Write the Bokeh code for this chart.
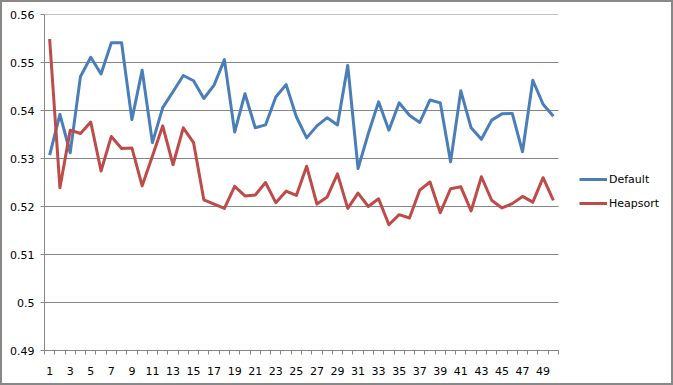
from bokeh.plotting import figure
from bokeh.models import FixedTicker, NumeralTickFormatter, Legend, LegendItem, Range1d, InlineStyleSheet
from bokeh.embed import file_html
from bokeh.resources import INLINE

runs = list(range(1, 51))
default_vals = [0.5307, 0.5392, 0.5312, 0.5471, 0.5511, 0.5476, 0.5541, 0.5541, 0.5381, 0.5484,
                0.5333, 0.5406, 0.5439, 0.5473, 0.5462, 0.5425, 0.5453, 0.5506, 0.5355, 0.5435,
                0.5364, 0.5370, 0.5428, 0.5454, 0.5387, 0.5343, 0.5368, 0.5385, 0.5370, 0.5494,
                0.5279, 0.5352, 0.5418, 0.5359, 0.5416, 0.5390, 0.5375, 0.5422, 0.5416, 0.5293,
                0.5441, 0.5364, 0.5340, 0.5380, 0.5393, 0.5394, 0.5314, 0.5463, 0.5413, 0.5388]
heapsort_vals = [0.5549, 0.5239, 0.5359, 0.5352, 0.5376, 0.5274, 0.5346, 0.5321, 0.5322, 0.5243,
                 0.5305, 0.5368, 0.5287, 0.5364, 0.5333, 0.5214, 0.5205, 0.5196, 0.5242, 0.5222,
                 0.5224, 0.5250, 0.5208, 0.5232, 0.5223, 0.5284, 0.5205, 0.5220, 0.5268, 0.5196,
                 0.5228, 0.5200, 0.5216, 0.5162, 0.5183, 0.5176, 0.5234, 0.5251, 0.5187, 0.5237,
                 0.5241, 0.5191, 0.5262, 0.5213, 0.5197, 0.5206, 0.5221, 0.5209, 0.5260, 0.5213]
y_ticks = [0.49, 0.50, 0.51, 0.52, 0.53, 0.54, 0.55, 0.56]
x_label_ticks = list(range(1, 51, 2))
series_names = ["Default", "Heapsort"]

FONT = "DejaVu Sans"
GRAY = "#868686"

x_lo = runs[0] - 0.5
x_hi = runs[-1] + 0.5
# frame extends under the legend area on the right (514 px for the 50 categories, 629 px total)
x_view_hi = x_lo + (x_hi - x_lo) * 629 / 514

p = figure(width=673, height=385, output_backend="svg", toolbar_location=None,
           x_range=Range1d(x_lo, x_view_hi), y_range=Range1d(y_ticks[0], y_ticks[-1]),
           min_border_left=44, min_border_right=0, min_border_top=14, min_border_bottom=35)
p.outline_line_color = None
p.background_fill_color = "white"
p.border_fill_color = "white"
p.stylesheets = [InlineStyleSheet(css=":host { position: relative; } :host::after { content: ''; position: absolute; left: 0; top: 0; right: 0; bottom: 0; border: 2px solid #888888; pointer-events: none; z-index: 100; }")]

# grid (horizontal lines only over the category area)
p.xgrid.grid_line_color = None
p.ygrid.grid_line_color = None
p.segment(x0=[x_lo] * len(y_ticks), x1=[x_hi] * len(y_ticks), y0=y_ticks, y1=y_ticks,
          line_color=GRAY, line_width=1)

# y axis
p.yaxis.ticker = FixedTicker(ticks=y_ticks)
p.yaxis.formatter = NumeralTickFormatter(format="0.[00]")
p.yaxis.axis_line_color = GRAY
p.yaxis.major_tick_line_color = GRAY
p.yaxis.major_tick_out = 4
p.yaxis.major_tick_in = 0
p.yaxis.minor_tick_line_color = None
p.yaxis.major_label_text_font = FONT
p.yaxis.major_label_text_font_size = "11px"
p.yaxis.major_label_text_color = "black"
p.yaxis.major_label_standoff = 6

# x axis
p.xaxis.bounds = (x_lo, x_hi)
p.xaxis.ticker = FixedTicker(ticks=x_label_ticks, minor_ticks=[k + 0.5 for k in range(0, 51)])
p.xaxis.axis_line_color = GRAY
p.xaxis.major_tick_line_color = None
p.xaxis.major_tick_out = 0
p.xaxis.major_tick_in = 0
p.xaxis.minor_tick_line_color = GRAY
p.xaxis.minor_tick_out = 4
p.xaxis.minor_tick_in = 0
p.xaxis.major_label_text_font = FONT
p.xaxis.major_label_text_font_size = "11px"
p.xaxis.major_label_text_color = "black"
p.xaxis.major_label_standoff = 12

r1 = p.line(runs, default_vals, line_color="#4A7EBB", line_width=3, line_join="round")
r2 = p.line(runs, heapsort_vals, line_color="#BE4B48", line_width=3, line_join="round")

legend = Legend(items=[LegendItem(label=series_names[0], renderers=[r1]),
                       LegendItem(label=series_names[1], renderers=[r2])],
                location=(535, 140), orientation="vertical")
legend.margin = 0
legend.padding = 0
legend.border_line_color = None
legend.background_fill_alpha = 0
legend.glyph_width = 28
legend.glyph_height = 14
legend.label_height = 14
legend.label_standoff = 2
legend.spacing = 10
legend.label_text_font = FONT
legend.label_text_font_size = "11px"
legend.label_text_color = "black"
p.add_layout(legend, "center")

open("out.html", "w").write(file_html(p, INLINE))
